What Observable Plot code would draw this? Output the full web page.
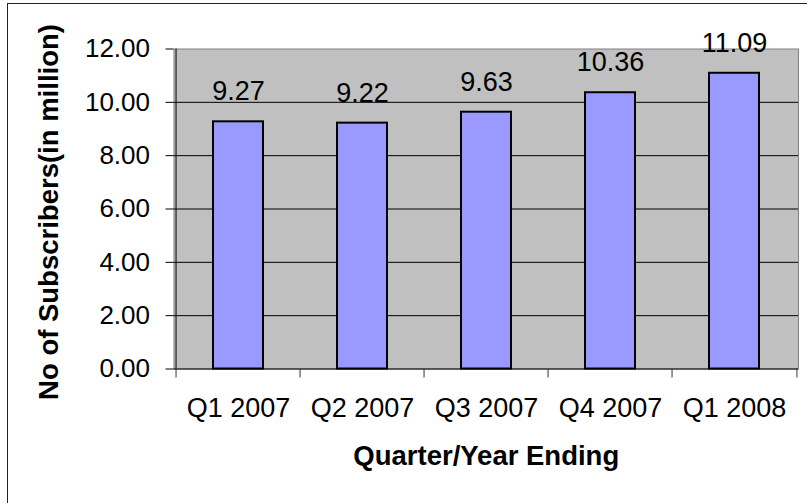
<!DOCTYPE html>
<html>
<head>
<meta charset="utf-8">
<script src="https://cdn.jsdelivr.net/npm/d3@7"></script>
<script src="https://cdn.jsdelivr.net/npm/@observablehq/plot@0.6"></script>
<style>
  html, body { margin: 0; padding: 0; background: #fff; }
  #wrap { position: relative; width: 807px; height: 503px; overflow: hidden; }
  #border { position: absolute; left: 7px; top: 3px; width: 820px; height: 520px;
            border-left: 1.5px solid #222; border-top: 1.5px solid #222; box-sizing: border-box; }
  #chart { position: absolute; left: 0; top: 0; }
</style>
</head>
<body>
<div id="wrap"><div id="chart"></div><div id="border"></div></div>
<script>
const quarters = ["Q1 2007", "Q2 2007", "Q3 2007", "Q4 2007", "Q1 2008"];
const subscribers = [9.27, 9.22, 9.63, 10.36, 11.09];
const yTicks = [0, 2, 4, 6, 8, 10, 12];
const xTitle = "Quarter/Year Ending";
const yTitle = "No of Subscribers(in million)";

const data = quarters.map((q, i) => ({q, v: subscribers[i]}));

const W = 807, H = 503;
const mL = 173.5, mR = 9, mT = 48.5, mB = 134.5;
const step = (W - mL - mR) / quarters.length;
const font = "'Liberation Sans', Arial, sans-serif";

const plot = Plot.plot({
  width: W,
  height: H,
  marginLeft: mL,
  marginRight: mR,
  marginTop: mT,
  marginBottom: mB,
  style: {fontFamily: font, color: "#000", background: "transparent"},
  x: {domain: quarters, paddingInner: 0.6, paddingOuter: 0.3, axis: null, label: null},
  y: {domain: [0, 12], axis: null, label: null},
  marks: [
    Plot.frame({fill: "#c0c0c0", stroke: "#808080"}),
    Plot.ruleY(yTicks.filter(t => t > 0 && t < 12), {stroke: "#000", strokeWidth: 1}),
    Plot.ruleY([0], {stroke: "#000", strokeWidth: 1}),
    Plot.ruleX([quarters[0]], {dx: -step / 2, y1: 0, y2: 12, stroke: "#000", strokeWidth: 1}),
    Plot.barY(data, {x: "q", y: "v", fill: "#9999ff", stroke: "#000", strokeWidth: 2}),
    Plot.text(data, {x: "q", y: "v", text: d => d.v.toFixed(2), dy: -30, fontSize: 27, fill: "#000"}),
    Plot.axisY({ticks: yTicks, tickFormat: d => d.toFixed(2), tickSize: 8, tickPadding: 16, fontSize: 26, stroke: "#000", label: null}),
    Plot.axisX({ticks: quarters, tickSize: 9, dx: -step / 2, tickFormat: () => "", stroke: "#333", label: null}),
    Plot.axisX({ticks: [quarters[quarters.length - 1]], tickSize: 9, dx: step / 2, tickFormat: () => "", stroke: "#333", label: null}),
    Plot.axisX({ticks: quarters, tickSize: 0, tickPadding: 29, fontSize: 27, label: null}),
    Plot.text([xTitle], {frameAnchor: "bottom", dy: 96, fontSize: 27.5, fontWeight: "bold", fill: "#000"}),
    Plot.text([yTitle], {frameAnchor: "left", textAnchor: "middle", rotate: -90, dx: -125, dy: 3, fontSize: 27.5, fontWeight: "bold", fill: "#000"})
  ]
});
document.getElementById("chart").appendChild(plot);
</script>
</body>
</html>
